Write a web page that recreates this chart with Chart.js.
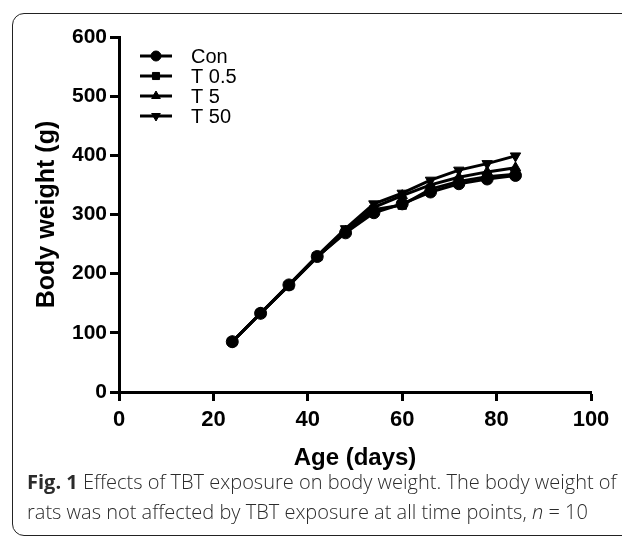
<!DOCTYPE html>
<html>
<head>
<meta charset="utf-8">
<script src="https://cdn.jsdelivr.net/npm/chart.js@4"></script>
<style>
  html, body { margin: 0; padding: 0; background: #fff; }
  body { width: 622px; height: 538px; position: relative; overflow: hidden; }
  .frame {
    position: absolute; left: 12px; top: 13px; width: 640px; height: 523px;
    border: 1.5px solid #222; border-radius: 12px; box-sizing: border-box;
  }
  #chart-holder { position: absolute; left: 0; top: 0; width: 622px; height: 470px; }
  .caption {
    position: absolute; left: 27px; top: 467px; width: 600px;
    font-family: "Open Sans", "Noto Sans", sans-serif; font-size: 20px; font-weight: 300;
    line-height: 30px; color: #2b2b2b; white-space: nowrap;
  }
  .caption b { font-weight: 700; }
</style>
</head>
<body>
<div class="frame"></div>
<div id="chart-holder"><canvas id="weight-chart" width="622" height="470"></canvas></div>
<div class="caption">
  <b>Fig. 1</b> Effects of TBT exposure on body weight. The body weight of<br>
  rats was not affected by TBT exposure at all time points, <i>n</i> = 10
</div>
<script>
// data
let age_days = [24, 30, 36, 42, 48, 54, 60, 66, 72, 78, 84]
let con_weight = [85, 133, 181, 229, 269, 303, 318, 338, 352, 360, 366]
let t05_weight = [85, 133, 180, 229, 271, 308, 316, 343, 356, 364, 368]
let t5_weight = [85, 133, 180, 228, 272, 312, 332, 350, 363, 372, 379]
let t50_weight = [85, 133, 181, 230, 276, 318, 336, 358, 375, 386, 399]
let x_ticks = [0, 20, 40, 60, 80, 100]
let y_ticks = [0, 100, 200, 300, 400, 500, 600]

let series = [
  {label: "Con", values: con_weight, style: "circle", rot: 0},
  {label: "T 0.5", values: t05_weight, style: "rect", rot: 0},
  {label: "T 5", values: t5_weight, style: "triangle", rot: 0},
  {label: "T 50", values: t50_weight, style: "triangle", rot: 180}
]

let tick_font = "'Liberation Sans', Arial, sans-serif"

// legend drawn inside the plot, line through the marker like the original
let inner_legend = {
  id: "innerLegend",
  afterDraw(chart) {
    let ctx = chart.ctx
    let x0 = chart.chartArea.left + 21
    let y0 = chart.chartArea.top + 19
    ctx.save()
    chart.data.datasets.forEach((ds, i) => {
      let y = y0 + i * 20
      ctx.strokeStyle = "#000"
      ctx.fillStyle = "#000"
      ctx.lineWidth = 3
      ctx.beginPath()
      ctx.moveTo(x0, y)
      ctx.lineTo(x0 + 32, y)
      ctx.stroke()
      if (Chart.helpers && Chart.helpers.drawPoint) {
        ctx.lineWidth = 1
        Chart.helpers.drawPoint(ctx, {pointStyle: ds.pointStyle, radius: 5, rotation: ds.pointRotation, borderWidth: 1}, x0 + 16, y)
      }
      ctx.font = "20px 'Liberation Sans', Arial, sans-serif"
      ctx.textBaseline = "middle"
      ctx.fillText(ds.label, x0 + 51, y + 1)
    })
    ctx.restore()
  }
}

let chart = new Chart(document.querySelector("#weight-chart"), {
  type: "line",
  data: {
    datasets: series.map(s => ({
      label: s.label,
      data: age_days.map((d, i) => ({x: d, y: s.values[i]})),
      borderColor: "#000",
      backgroundColor: "#000",
      borderWidth: 3,
      pointStyle: s.style,
      pointRotation: s.rot,
      pointRadius: 6,
      pointBorderWidth: 1,
      tension: 0
    }))
  },
  options: {
    responsive: false,
    animation: false,
    layout: { padding: {top: 37, right: 31, left: 0, bottom: 0} },
    plugins: { legend: {display: false}, tooltip: {enabled: false} },
    scales: {
      x: {
        type: "linear",
        min: 0, max: 100,
        afterBuildTicks: (axis) => { axis.ticks = x_ticks.map(v => ({value: v})) },
        afterFit: (axis) => { axis.height = 78 },
        grid: { drawOnChartArea: false, drawTicks: true, tickLength: 9, tickWidth: 3, tickColor: "#000" },
        border: { display: true, width: 3, color: "#000" },
        ticks: { color: "#000", padding: 6, maxRotation: 0, font: {family: tick_font, size: 22, weight: "bold"} },
        title: { display: true, text: "Age (days)", color: "#000", padding: {top: 0, bottom: 0},
                 font: {family: "'Liberation Sans', Arial, sans-serif", size: 24, weight: "bold", lineHeight: 1} }
      },
      y: {
        min: 0, max: 600,
        afterBuildTicks: (axis) => { axis.ticks = y_ticks.map(v => ({value: v})) },
        afterFit: (axis) => { axis.width = 119 },
        grid: { drawOnChartArea: false, drawTicks: true, tickLength: 9, tickWidth: 3, tickColor: "#000" },
        border: { display: true, width: 3, color: "#000" },
        ticks: { color: "#000", padding: 3, font: {family: tick_font, size: 21, weight: "bold"} },
        title: { display: true, text: "Body weight (g)", color: "#000", padding: {top: 35, bottom: 0},
                 font: {family: "'Liberation Sans', Arial, sans-serif", size: 25, weight: "bold", lineHeight: 1} }
      }
    }
  },
  plugins: [inner_legend]
})
</script>
</body>
</html>
